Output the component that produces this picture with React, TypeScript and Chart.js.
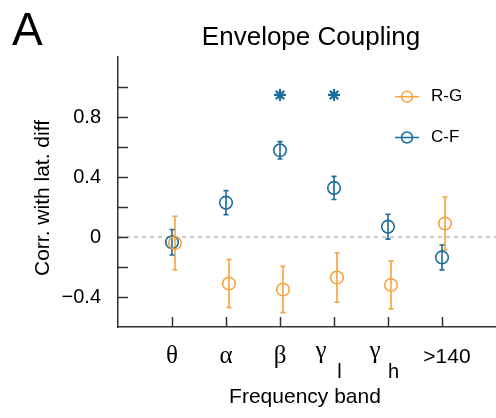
import { useEffect, useRef } from "react";
import { Chart, registerables } from "chart.js";

Chart.register(...registerables);

// ---- data ----
const bands = ["θ", "α", "β", "γ", "γ", ">140"];
const bandSubs = ["", "", "", "l", "h", ""];
const seriesNames = ["R-G", "C-F"];
const rgMean = [-0.04, -0.31, -0.35, -0.27, -0.32, 0.09];
const rgErr = [0.178, 0.16, 0.154, 0.165, 0.159, 0.177];
const cfMean = [-0.035, 0.229, 0.578, 0.327, 0.069, -0.136];
const cfErr = [0.085, 0.08, 0.058, 0.077, 0.083, 0.083];
const sigBands = [2, 3];
const sigLevel = 0.947;
const yTickValues = [-0.4, 0, 0.4, 0.8];
const yTickLabels = ["\u22120.4", "0", "0.4", "0.8"];

const ORANGE = "#F7A23E";
const BLUE = "#1C6C9C";
const AXIS = "#333333";
const SANS = "'Liberation Sans', Arial, Helvetica, sans-serif";
const SERIF = "'Liberation Serif', 'Times New Roman', serif";

const decor = {
  id: "decor",
  beforeDatasetsDraw(chart: any) {
    const { ctx, chartArea, scales } = chart;
    const x = scales.x;
    const y = scales.y;
    ctx.save();
    // zero line
    ctx.strokeStyle = "#9a9a9a";
    ctx.lineWidth = 1;
    ctx.setLineDash([4, 4]);
    const y0 = y.getPixelForValue(0);
    ctx.beginPath();
    ctx.moveTo(chartArea.left, y0);
    ctx.lineTo(chartArea.right, y0);
    ctx.stroke();
    ctx.setLineDash([]);
    // error bars
    chart.data.datasets.forEach((ds: any) => {
      const errs = ds.errors;
      if (!errs) return;
      ctx.strokeStyle = ds.borderColor;
      ctx.lineWidth = 1.6;
      ds.data.forEach((p: any, i: number) => {
        const px = x.getPixelForValue(p.x);
        const top = y.getPixelForValue(p.y + errs[i]);
        const bot = y.getPixelForValue(p.y - errs[i]);
        ctx.beginPath();
        ctx.moveTo(px, top);
        ctx.lineTo(px, bot);
        ctx.moveTo(px - 2.5, top);
        ctx.lineTo(px + 2.5, top);
        ctx.moveTo(px - 2.5, bot);
        ctx.lineTo(px + 2.5, bot);
        ctx.stroke();
      });
    });
    ctx.restore();
  },
  afterDraw(chart: any) {
    const { ctx, chartArea, scales } = chart;
    const x = scales.x;
    const y = scales.y;
    ctx.save();
    // inward tick marks
    ctx.strokeStyle = AXIS;
    ctx.lineWidth = 1.5;
    const yt = y.ticks;
    yt.forEach((t: any, i: number) => {
      if (i === 0 || i === yt.length - 1) return;
      const py = Math.round(y.getPixelForValue(t.value)) + 0.5;
      ctx.beginPath();
      ctx.moveTo(chartArea.left, py);
      ctx.lineTo(chartArea.left + 10, py);
      ctx.stroke();
    });
    bands.forEach((_, i) => {
      const px = Math.round(x.getPixelForValue(i + 1)) + 0.5;
      ctx.beginPath();
      ctx.moveTo(px, chartArea.bottom);
      ctx.lineTo(px, chartArea.bottom - 10);
      ctx.stroke();
    });
    // x tick labels
    ctx.fillStyle = "#000";
    ctx.textBaseline = "alphabetic";
    bands.forEach((b, i) => {
      const px = x.getPixelForValue(i + 1);
      const sub = bandSubs[i];
      const isGreek = /[\u0370-\u03ff]/.test(b);
      ctx.font = isGreek ? `25px ${SERIF}` : `21px ${SANS}`;
      ctx.textAlign = "center";
      if (sub) {
        ctx.fillText(b, px - 13, 358);
        ctx.font = `20px ${SANS}`;
        ctx.fillText(sub, px + 5.5, 378);
      } else if (isGreek) {
        ctx.fillText(b, px, 363);
      } else {
        ctx.fillText(b, px + 5, 363);
      }
    });
    // axis titles
    ctx.font = `21px ${SANS}`;
    ctx.textAlign = "center";
    ctx.fillText("Frequency band", 305, 403);
    ctx.save();
    ctx.translate(43, 198);
    ctx.rotate(-Math.PI / 2);
    ctx.textBaseline = "middle";
    ctx.fillText("Corr. with lat. diff", 0, 0);
    ctx.restore();
    // chart title and panel letter
    ctx.textBaseline = "alphabetic";
    ctx.font = `26px ${SANS}`;
    ctx.textAlign = "center";
    ctx.fillText("Envelope Coupling", 311, 45);
    ctx.font = `46px ${SANS}`;
    ctx.textAlign = "left";
    ctx.fillText("A", 12, 45);
    // legend
    const legendY = [96.7, 137.5];
    const cols = [ORANGE, BLUE];
    seriesNames.forEach((n, i) => {
      const ly = legendY[i];
      ctx.strokeStyle = cols[i];
      ctx.lineWidth = 1.5;
      ctx.beginPath();
      ctx.moveTo(395, ly);
      ctx.lineTo(419, ly);
      ctx.stroke();
      ctx.beginPath();
      ctx.arc(407, ly, 5.5, 0, Math.PI * 2);
      ctx.stroke();
      ctx.fillStyle = "#000";
      ctx.font = `17px ${SANS}`;
      ctx.textAlign = "left";
      ctx.textBaseline = "middle";
      ctx.fillText(n, 431, ly);
    });
    ctx.restore();
  },
};

export default function App() {
  const ref = useRef<HTMLCanvasElement | null>(null);
  useEffect(() => {
    if (!ref.current) return;
    const rgOffset = 0.055;
    const chart = new Chart(ref.current, {
      type: "scatter",
      data: {
        datasets: [
          {
            label: seriesNames[0],
            data: rgMean.map((v, i) => ({ x: i + 1 + rgOffset, y: v })),
            errors: rgErr,
            borderColor: ORANGE,
            backgroundColor: "rgba(0,0,0,0)",
            pointRadius: 6.3,
            pointBorderWidth: 1.6,
            pointStyle: "circle",
          } as any,
          {
            label: seriesNames[1],
            data: cfMean.map((v, i) => ({ x: i + 1, y: v })),
            errors: cfErr,
            borderColor: BLUE,
            backgroundColor: "rgba(0,0,0,0)",
            pointRadius: 6.3,
            pointBorderWidth: 1.6,
            pointStyle: "circle",
          } as any,
          {
            label: "sig",
            data: sigBands.map((i) => ({ x: i + 1, y: sigLevel })),
            borderColor: BLUE,
            backgroundColor: BLUE,
            pointRadius: 6,
            pointBorderWidth: 2.2,
            pointStyle: "star",
          } as any,
        ],
      },
      options: {
        animation: false,
        responsive: true,
        maintainAspectRatio: false,
        layout: { autoPadding: false, padding: { top: 57, left: 0, right: 0, bottom: 0 } },
        plugins: {
          legend: { display: false },
          tooltip: { enabled: false },
          title: { display: false },
        },
        scales: {
          x: {
            type: "linear",
            min: 0,
            max: 7,
            grid: { display: false },
            border: { display: true, color: AXIS, width: 1.5 },
            ticks: { display: false },
            afterFit: (s: any) => {
              s.height = 91;
            },
          },
          y: {
            type: "linear",
            min: -0.6,
            max: 1.2,
            grid: { display: false, drawTicks: false },
            border: { display: true, color: AXIS, width: 1.5 },
            ticks: {
              stepSize: 0.2,
              padding: 17,
              color: "#000",
              font: { family: SANS, size: 20 },
              callback: (v: any) => {
                const k = yTickValues.findIndex((t) => Math.abs(t - Number(v)) < 1e-6);
                return k >= 0 ? yTickLabels[k] : "";
              },
            },
            afterFit: (s: any) => {
              s.width = 118;
            },
          },
        },
      },
      plugins: [decor],
    });
    return () => chart.destroy();
  }, []);
  return (
    <div style={{ position: "fixed", left: 0, top: 0, width: 496, height: 418, background: "#fff" }}>
      <canvas ref={ref} />
    </div>
  );
}
